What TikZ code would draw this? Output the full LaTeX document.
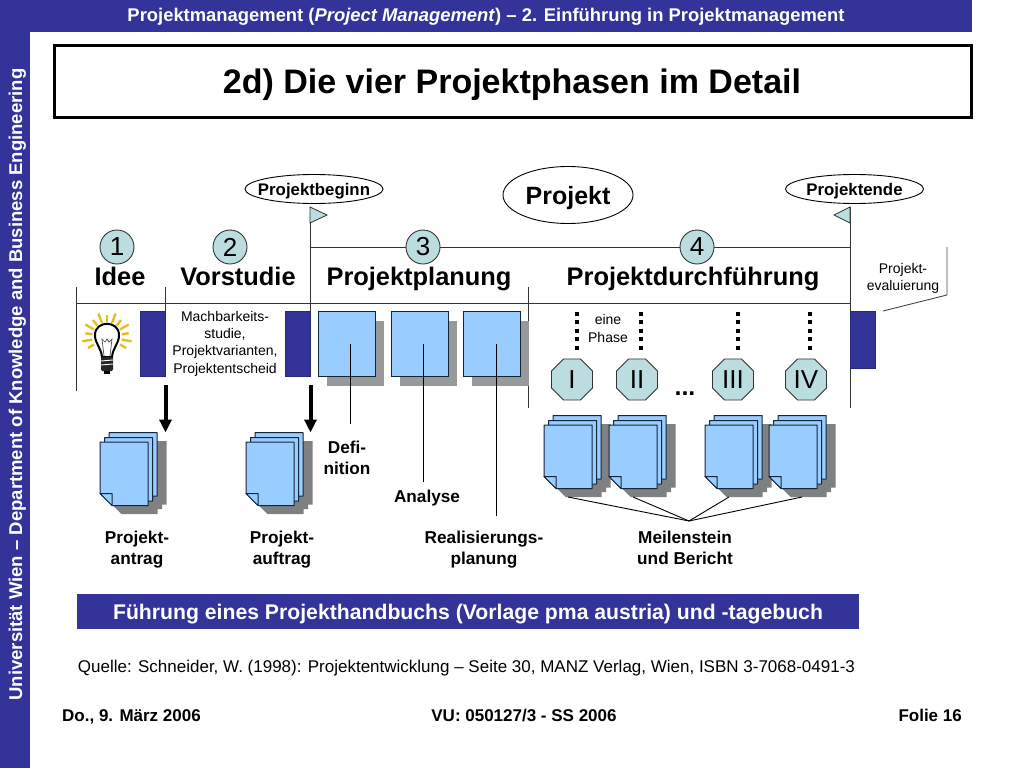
\documentclass[tikz,border=0pt]{standalone}
\usepackage{fontspec}
\setmainfont{Liberation Sans}
\usetikzlibrary{arrows.meta,shapes.geometric,shadows}
\definecolor{navy}{HTML}{333399}
\definecolor{sky}{HTML}{99CCFF}
\definecolor{teal}{HTML}{BBDDE0}
\definecolor{edge}{HTML}{12263A}
\tikzset{
  rule/.style={draw=black!80,line width=1pt},
  thin rule/.style={draw=black,line width=0.9pt},
  bigarrow/.style={line width=4pt,-{Triangle[width=12pt,length=13pt]}},
  dots/.style={line width=4pt,dash pattern=on 4pt off 4.6pt},
  circ/.style={circle,draw=black!80,fill=teal,line width=0.9pt,minimum size=34pt,inner sep=0pt,font=\fontsize{26}{26}\selectfont},
  octa/.style={regular polygon,regular polygon sides=8,draw=black!80,fill=teal,line width=0.9pt,minimum size=44.4pt,inner sep=0pt,font=\fontsize{26}{26}\selectfont},
  oval/.style={ellipse,draw=black,fill=white,line width=0.9pt,inner sep=0pt},
  phase/.style={anchor=base,font=\fontsize{25.4}{26}\bfseries\selectfont},
  bold/.style={align=center,font=\fontsize{17.2}{21}\bfseries\selectfont},
  small/.style={align=center,font=\fontsize{14}{17.4}\selectfont},
  foot/.style={anchor=base,inner sep=0pt,font=\fontsize{17}{18}\bfseries\selectfont},
  bluebox/.style={anchor=north west,draw=navy!80!black,fill=navy,line width=0.5pt,inner sep=0pt,minimum width=25pt,minimum height=65pt},
  page/.style={anchor=north west,draw=edge,fill=sky,line width=1pt,inner sep=0pt,minimum width=57pt,minimum height=65pt,drop shadow={shadow xshift=8.5pt,shadow yshift=-9pt,fill=black!40,opacity=1}},
  flag/.style={draw=black!80,fill=teal,line width=0.8pt},
  sheet/.style={draw=edge,fill=sky,line width=1pt,line join=round},
  sheetshadow/.style={draw=none,fill=black!50},
}
% one sheet with its folded corner
\newcommand{\docsheet}[3]{
  \path[#1] (#2,#3) -- ++(48,0) -- ++(0,63.5) -- ++(-36,0) -- ++(-12,-12) -- cycle;
}
\newcommand{\docfold}[2]{
  \draw[sheet] (#1,#2+51.5) -- ++(12,0) -- ++(0,12) -- cycle;
}
% #1 name, #2 #3 top left of the front sheet
\newcommand{\docstack}[3]{
  \docsheet{sheetshadow}{#2+18.5}{#3-1}
  \docsheet{sheetshadow}{#2+14}{#3+3.5}
  \docsheet{sheetshadow}{#2+9.5}{#3+8.5}
  \docsheet{sheet}{#2+9}{#3-9.5}
  \docsheet{sheet}{#2+4.5}{#3-4.5}
  \docsheet{sheet}{#2}{#3}
  \docfold{#2}{#3}
  \coordinate (#1) at (#2+24,#3+72);
}
% text that may fill its oval, #1 is its drop below the centre
\newcommand{\ovaltext}[2]{\raisebox{-#1}[0pt][0pt]{\makebox[0pt]{#2}}}
\begin{document}
\begin{tikzpicture}[x=1pt,y=-1pt]
\useasboundingbox (0,0) rectangle (1024,768);
\fill[white] (0,0) rectangle (1024,768);
% frame of the slide
\fill[navy] (0,0) rectangle (972,32);
\fill[navy] (0,0) rectangle (30,768);
\node (header) at (486,22) [anchor=base,inner sep=0pt,text=white,font=\fontsize{18.4}{20}\bfseries\selectfont] {Projektmanagement (\textit{Project Management}) -- 2. Einführung in Projektmanagement};
\node (side) at (22,384.5) [rotate=90,anchor=base,inner sep=0pt,text=white,font=\fontsize{18.5}{20}\bfseries\selectfont] {Universität Wien -- Department of Knowledge and Business Engineering};
\node (title) at (512.5,81.5) [draw=black,line width=3pt,minimum width=917pt,minimum height=71pt,inner sep=0pt] {};
\node (title text) at (512,93.5) [anchor=base,inner sep=0pt,font=\fontsize{34}{36}\bfseries\selectfont] {2d) Die vier Projektphasen im Detail};
% time lines
\draw[rule] (310,207) -- (310,311);
\draw[rule] (850,207) -- (850,408);
\draw[rule] (310,247) -- (850,247);
\draw[rule] (76,303) -- (850,303);
\draw[rule] (76,287) -- (76,391);
\draw[rule] (165,287) -- (165,311);
\draw[rule] (528,287) -- (528,408);
\draw[flag] (310,207) -- (327,215) -- (310,223) -- cycle;
\draw[flag] (850,207) -- (834,215) -- (850,223) -- cycle;
\node (begin) at (314,189) [oval,minimum width=138pt,minimum height=29pt,font=\fontsize{16.8}{18}\bfseries\selectfont] {\ovaltext{6.5pt}{Projektbeginn}};
\node (end) at (854.5,189) [oval,minimum width=138pt,minimum height=29pt,font=\fontsize{16.8}{18}\bfseries\selectfont] {\ovaltext{6.5pt}{Projektende}};
\node (project) at (568,195) [oval,minimum width=130pt,minimum height=57pt,font=\fontsize{25}{26}\bfseries\selectfont] {\ovaltext{9pt}{Projekt}};
% phases
\node (one) at (117,247) [circ] {1};
\node (two) at (230,247) [circ] {2};
\node (three) at (423,247) [circ] {3};
\node (four) at (697,247) [circ] {4};
\node (idea) at (120,285) [phase] {Idee};
\node (study) at (238,285) [phase] {Vorstudie};
\node (plan) at (419,285) [phase] {Projektplanung};
\node (run) at (693,285) [phase] {Projektdurchführung};
% bulb
\foreach \a/\r in {150/21,170/24,190/21,210/24,230/21,250/24,270/21,290/24,310/21,330/24,350/21,370/24,390/21}
  \draw[draw=yellow!65!orange!90!black,line width=2.4pt] (107,337) ++(\a:15) -- ++(\a:\r-14);
\draw[fill=white,draw=black,line width=2pt] (102,357) .. controls (101,347) and (95,344) .. (95,335) .. controls (95,320) and (119,320) .. (119,335) .. controls (119,344) and (113,347) .. (112,357) -- cycle;
\draw[black!70,line width=0.7pt] (104,356) -- (102,339) -- (105,342) -- (107,339) -- (109,342) -- (112,339) -- (110,356);
\fill[black!85,rounded corners=1.5pt] (101,357) rectangle (113,371);
\draw[white,line width=0.9pt] (101,361) -- (113,360) (101,365) -- (113,364);
\fill[black] (104,371) rectangle (110,374);
% milestones
\node (boxa) at (140,311) [bluebox] {};
\node (boxb) at (285,311) [bluebox] {};
\node (boxc) at (850,311) [bluebox,minimum height=57pt] {};
\node (study text) at (225,343.5) [small] {Machbarkeits-\\studie,\\Projektvarianten,\\Projektentscheid};
\node (evaluation) at (903,278.5) [small] {Projekt-\\evaluierung};
\draw[thin rule,draw=black!70] (947,247) -- (947,295) -- (883,311);
% planning sheets
\node (pagea) at (318,311) [page] {};
\node (pageb) at (391,311) [page] {};
\node (pagec) at (463,311) [page] {};
\coordinate (defi end) at (350.5,424);
\coordinate (analyse end) at (423,482);
\coordinate (real end) at (496,516);
\draw[thin rule] (defi end |- pagea.center) -- (defi end);
\draw[thin rule] (analyse end |- pageb.center) -- (analyse end);
\draw[thin rule] (real end |- pagec.center) -- (real end);
\node (defi) at (347,458) [bold] {Defi-\\nition};
\node (analyse) at (427,498.5) [bold] {Analyse};
\node (real) at (484,549.5) [bold] {Realisierungs-\\planung};
% documents
\docstack{antrag}{100}{442}
\docstack{auftrag}{246}{442}
\docstack{doca}{544}{425}
\docstack{docb}{609}{425}
\docstack{docc}{705}{425}
\docstack{docd}{769}{425}
\draw[bigarrow] ([yshift=-8pt]boxa.south east) -- ++(0,48);
\draw[bigarrow] ([yshift=-8pt]boxb.south east) -- ++(0,48);
\node (antrag text) at (137,549.5) [bold] {Projekt-\\antrag};
\node (auftrag text) at (282,549.5) [bold] {Projekt-\\auftrag};
\coordinate (mile top) at (689,521);
\draw[thin rule] (doca) -- (mile top);
\draw[thin rule] (docb) -- (mile top);
\draw[thin rule] (docc) -- (mile top);
\draw[thin rule] ([xshift=9pt]docd) -- (mile top);
\node (mile text) at (685,548) [bold] {Meilenstein\\und Bericht};
% steps
\node (stepa) at (572,379.5) [octa] {I};
\node (stepb) at (637,379.5) [octa] {II};
\node (stepc) at (733,379.5) [octa] {III};
\node (stepd) at (806,379.5) [octa] {IV};
\node (more) at (685,395) [anchor=base,inner sep=0pt,font=\fontsize{25}{25}\bfseries\selectfont] {...};
\node (one phase) at (608,328.5) [small] {eine\\Phase};
\foreach \x in {576.5,641,737.5,810}
  \draw[dots] (\x,311.5) -- (\x,351);
% bottom
\node (bar) at (468,611.5) [fill=navy,minimum width=782pt,minimum height=35pt,inner sep=0pt] {};
\node (bar text) at (468,619) [anchor=base,inner sep=0pt,text=white,font=\fontsize{21.2}{22}\bfseries\selectfont] {Führung eines Projekthandbuchs (Vorlage pma austria) und -tagebuch};
\node (source) at (466.5,672) [anchor=base,inner sep=0pt,font=\fontsize{17}{18}\selectfont] {Quelle: Schneider, W. (1998): Projektentwicklung -- Seite 30, MANZ Verlag, Wien, ISBN 3-7068-0491-3};
\node (date) at (62,721) [foot,anchor=base west] {Do., 9. März 2006};
\node (course) at (524,721) [foot] {VU: 050127/3 - SS 2006};
\node (slide) at (962,721) [foot,anchor=base east] {Folie 16};
\end{tikzpicture}
\end{document}
